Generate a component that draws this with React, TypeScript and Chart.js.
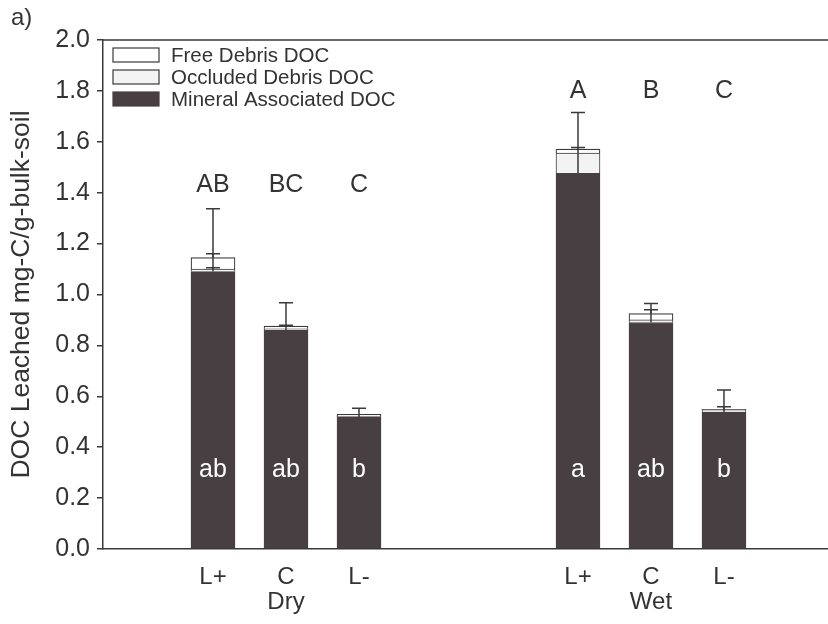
import React, { useEffect, useRef } from "react";
import { Chart, registerables } from "chart.js";

Chart.register(...registerables);

// ---- data ----
const treatments = ["L+", "C", "L-", "L+", "C", "L-"];
const positions = [0, 1, 2, 5, 6, 7];
const groups = ["Dry", "Wet"];
const groupCenters = [1, 6];
const seriesNames = ["Free Debris DOC", "Occluded Debris DOC", "Mineral Associated DOC"];
const mineral = [1.09, 0.86, 0.517, 1.476, 0.89, 0.538];
const occluded = [0.01, 0.005, 0.005, 0.08, 0.01, 0.005];
const free = [0.045, 0.011, 0.007, 0.015, 0.025, 0.006];
const mineralSE = [0.247, 0.108, 0.036, 0.239, 0.075, 0.087];
const occludedSE = [0.005, 0, 0, 0, 0, 0];
const freeSE = [0.015, 0.003, 0, 0.007, 0.015, 0.01];
const upperLetters = ["AB", "BC", "C", "A", "B", "C"];
const upperLetterY = [1.43, 1.43, 1.43, 1.8, 1.8, 1.8];
const lowerLetters = ["ab", "ab", "b", "a", "ab", "b"];
const lowerLetterY = [0.31, 0.31, 0.31, 0.31, 0.31, 0.31];
const yTickValues = [0, 0.2, 0.4, 0.6, 0.8, 1.0, 1.2, 1.4, 1.6, 1.8, 2.0];

const DARK = "#483f43";
const LIGHT = "#f3f3f3";
const LINE = "#3a3a3a";
const TEXT = "#333333";
const FONT = "'Liberation Sans', Arial, sans-serif";

const overlay = {
  id: "overlay",
  afterDatasetsDraw(chart: any) {
    const { ctx, chartArea, scales } = chart;
    const x = scales.x;
    const y = scales.y;
    ctx.save();
    // top frame line
    ctx.strokeStyle = LINE;
    ctx.lineWidth = 1.5;
    ctx.beginPath();
    ctx.moveTo(chartArea.left, chartArea.top);
    ctx.lineTo(chart.width, chartArea.top);
    ctx.stroke();

    // error bars
    const layers: [number[], number[]][] = [
      [mineral, mineralSE],
      [occluded, occludedSE],
      [free, freeSE],
    ];
    ctx.lineWidth = 1.5;
    ctx.strokeStyle = LINE;
    positions.forEach((p, i) => {
      const px = x.getPixelForValue(p);
      let cum = 0;
      layers.forEach(([vals, se]) => {
        cum += vals[i];
        if (se[i] > 0) {
          const y0 = y.getPixelForValue(cum);
          const y1 = y.getPixelForValue(cum + se[i]);
          ctx.beginPath();
          ctx.moveTo(px, y0);
          ctx.lineTo(px, y1);
          ctx.moveTo(px - 7, y1);
          ctx.lineTo(px + 7, y1);
          ctx.stroke();
        }
      });
    });

    // letters
    ctx.textAlign = "center";
    ctx.textBaseline = "middle";
    ctx.font = `25px ${FONT}`;
    positions.forEach((p, i) => {
      const px = x.getPixelForValue(p);
      ctx.fillStyle = TEXT;
      ctx.fillText(upperLetters[i], px, y.getPixelForValue(upperLetterY[i]));
      ctx.fillStyle = "#ffffff";
      ctx.fillText(lowerLetters[i], px, y.getPixelForValue(lowerLetterY[i]));
    });

    // group labels
    ctx.fillStyle = TEXT;
    ctx.font = `24px ${FONT}`;
    groups.forEach((g, k) => {
      ctx.fillText(g, x.getPixelForValue(groupCenters[k]), chartArea.bottom + 53);
    });

    // panel label
    ctx.textAlign = "left";
    ctx.font = `24px ${FONT}`;
    ctx.fillText("a)", 11, 18);

    // legend
    const fills = ["#ffffff", LIGHT, DARK];
    ctx.font = `20.5px ${FONT}`;
    seriesNames.forEach((name, k) => {
      const ty = 55 + k * 22;
      ctx.fillStyle = fills[k];
      ctx.fillRect(113, ty - 7, 46, 14);
      ctx.strokeStyle = k === 2 ? DARK : LINE;
      ctx.lineWidth = 1.2;
      ctx.strokeRect(113, ty - 7, 46, 14);
      ctx.fillStyle = TEXT;
      ctx.fillText(name, 171, ty + 1);
    });
    ctx.restore();
  },
};

export default function App() {
  const ref = useRef<HTMLCanvasElement | null>(null);
  useEffect(() => {
    if (!ref.current) return;
    const mk = (vals: number[]) => positions.map((p, i) => ({ x: p, y: vals[i] }));
    const chart = new Chart(ref.current, {
      type: "bar",
      data: {
        datasets: [
          {
            label: seriesNames[2],
            data: mk(mineral),
            backgroundColor: DARK,
            borderColor: DARK,
            borderWidth: 1,
            barThickness: 44,
          },
          {
            label: seriesNames[1],
            data: mk(occluded),
            backgroundColor: LIGHT,
            borderColor: LINE,
            borderWidth: 1,
            barThickness: 44,
          },
          {
            label: seriesNames[0],
            data: mk(free),
            backgroundColor: "#ffffff",
            borderColor: LINE,
            borderWidth: 1.2,
            barThickness: 44,
          },
        ] as any,
      },
      options: {
        responsive: false,
        animation: false,
        devicePixelRatio: 1,
        layout: { padding: { top: 40, left: 0, right: 0, bottom: 0 } },
        plugins: { legend: { display: false }, tooltip: { enabled: false } },
        scales: {
          x: {
            type: "linear",
            stacked: true,
            offset: false,
            min: -1.507,
            max: 8.425,
            grid: { display: false, drawTicks: false },
            border: { display: true, color: LINE, width: 1.5 },
            afterBuildTicks: (scale: any) => {
              scale.ticks = positions.map((v) => ({ value: v }));
            },
            afterFit: (scale: any) => {
              scale.height = 75;
            },
            ticks: {
              autoSkip: false,
              maxRotation: 0,
              padding: 14,
              color: TEXT,
              font: { family: FONT, size: 24 },
              callback: (_v: any, i: number) => treatments[i],
            },
          },
          y: {
            type: "linear",
            stacked: true,
            min: 0,
            max: 2,
            afterBuildTicks: (scale: any) => {
              scale.ticks = yTickValues.map((v) => ({ value: v }));
            },
            afterFit: (scale: any) => {
              scale.width = 103;
            },
            grid: {
              display: true,
              drawOnChartArea: false,
              drawTicks: true,
              tickLength: 6,
              color: LINE,
              lineWidth: 1.5,
            },
            border: { display: true, color: LINE, width: 1.5 },
            ticks: {
              padding: 7,
              color: TEXT,
              font: { family: FONT, size: 25 },
              callback: (v: any) => Number(v).toFixed(1),
            },
            title: {
              display: true,
              text: "DOC Leached mg-C/g-bulk-soil",
              color: TEXT,
              font: { family: FONT, size: 26.5 },
              padding: { top: 6, bottom: 0 },
            },
          },
        },
      } as any,
      plugins: [overlay],
    });
    return () => chart.destroy();
  }, []);
  return (
    <div style={{ position: "absolute", left: 0, top: 0, width: 828, height: 624, background: "#fff" }}>
      <canvas ref={ref} width={828} height={624} style={{ display: "block" }} />
    </div>
  );
}
